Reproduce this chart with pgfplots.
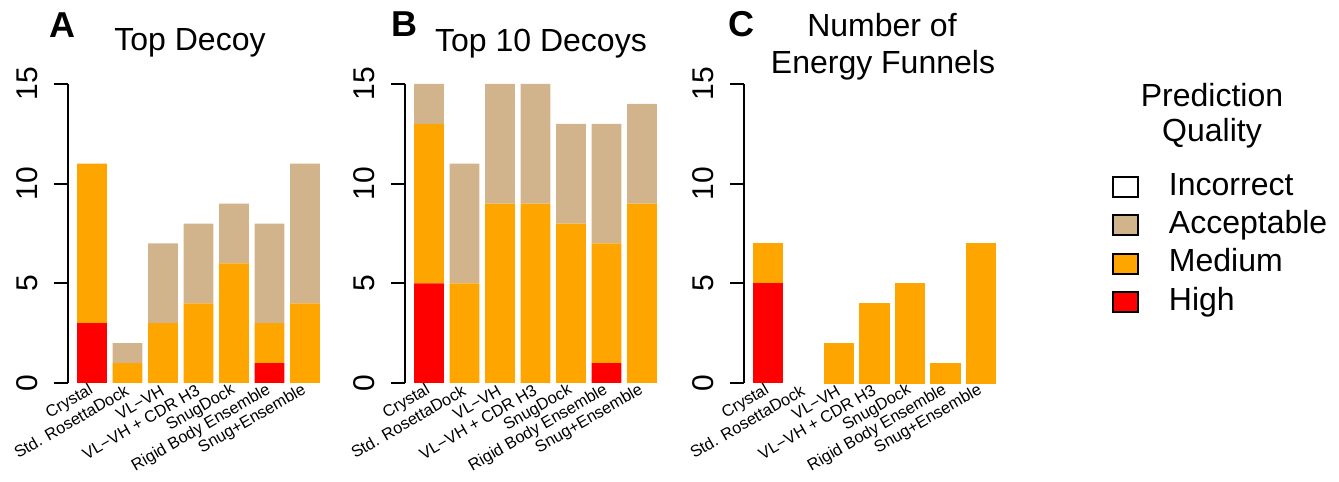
\documentclass[border=0pt]{standalone}
\usepackage{fontspec}
\setmainfont{Liberation Sans}
\usepackage{pgfplots}
\usepackage{pgfplotstable}
\pgfplotsset{compat=1.18}

\definecolor{high}{HTML}{FF0000}
\definecolor{medium}{HTML}{FFA500}
\definecolor{acceptable}{HTML}{D2B48C}

% x  high  medium  acceptable
\pgfplotstableread{
x h m a
0 3 8 0
1 0 1 1
2 0 3 4
3 0 4 4
4 0 6 3
5 1 2 5
6 0 4 7
}\topdecoy
\pgfplotstableread{
x h m a
0 5 8 2
1 0 5 6
2 0 9 6
3 0 9 6
4 0 8 5
5 1 6 6
6 0 9 5
}\topten
\pgfplotstableread{
x h m a
0 5 2 0
1 0 0 0
2 0 2 0
3 0 4 0
4 0 5 0
5 0 1 0
6 0 7 0
}\funnels

\pgfplotsset{
  panel/.style={
    at={(#1,49.5pt)}, anchor=south west,
    ybar stacked, bar width=0.8333,
    x=17.75pt, y=9.9667pt,
    xmin=-0.676, xmax=6.45, ymin=0, ymax=15,
    enlargelimits=false, clip=false,
    axis y line*=left, axis x line*=bottom,
    x axis line style={draw=none},
    y axis line style={line width=1pt},
    xtick={0,...,6},
    xticklabels={Crystal,Std. RosettaDock,VL−VH,VL−VH + CDR H3,SnugDock,Rigid Body Ensemble,Snug+Ensemble},
    xtick style={draw=none},
    ytick={0,5,10,15},
    ytick style={line width=1pt, black},
    tick align=outside, major tick length=7pt,
    /pgf/number format/assume math mode=true,
    yticklabel style={rotate=90, anchor=south, inner sep=0pt,
      font=\fontsize{15}{18}\selectfont},
    yticklabel shift=8pt,
    xticklabel style={rotate=30, anchor=east, inner sep=0pt,
      font=\fontsize{8.2}{10}\selectfont},
    xticklabel shift=-4pt,
    every axis plot/.append style={draw=none},
  },
}

\begin{document}
\begin{tikzpicture}
\useasboundingbox (0,0) rectangle (669.5pt,241pt);

% panel A
\begin{axis}[panel=34pt]
  \addplot[fill=high] table[x=x,y=h] {\topdecoy};
  \addplot[fill=medium] table[x=x,y=m] {\topdecoy};
  \addplot[fill=acceptable] table[x=x,y=a] {\topdecoy};
\end{axis}

% panel B
\begin{axis}[panel=202.5pt]
  \addplot[fill=high] table[x=x,y=h] {\topten};
  \addplot[fill=medium] table[x=x,y=m] {\topten};
  \addplot[fill=acceptable] table[x=x,y=a] {\topten};
\end{axis}

% panel C, with the legend
\begin{axis}[panel=372pt,
  legend style={at={(axis description cs:1.4545,0.7157)}, anchor=north west,
    draw=none, fill=none, inner sep=0pt, outer sep=0pt, row sep=1.2pt,
    column sep=15pt,
    font=\fontsize{16}{19}\selectfont,
    nodes={inner sep=0pt, text height=13pt, text depth=5pt}},
  legend cell align=left,
  legend image code/.code={\draw[#1, line width=1pt] (0pt,-5pt) rectangle (12.5pt,5pt);},
]
  \addplot[fill=high, forget plot] table[x=x,y=h] {\funnels};
  \addplot[fill=medium, draw=medium, line width=0.4pt, forget plot] table[x=x,y=m] {\funnels};
  \addplot[fill=acceptable, forget plot] table[x=x,y=a] {\funnels};
  \addlegendimage{fill=white, draw=black}
  \addlegendentry{Incorrect}
  \addlegendimage{fill=acceptable, draw=black}
  \addlegendentry{Acceptable}
  \addlegendimage{fill=medium, draw=black}
  \addlegendentry{Medium}
  \addlegendimage{fill=high, draw=black}
  \addlegendentry{High}
\end{axis}

% panel letters and titles
\node[anchor=base, font=\fontsize{18}{20}\selectfont\bfseries] at (31pt,222pt) {A};
\node[anchor=base, font=\fontsize{16}{19}\selectfont] at (95pt,215.5pt) {Top Decoy};
\node[anchor=base, font=\fontsize{18}{20}\selectfont\bfseries] at (202pt,222.5pt) {B};
\node[anchor=base, font=\fontsize{16}{19}\selectfont] at (270.5pt,215pt) {Top 10 Decoys};
\node[anchor=base, font=\fontsize{18}{20}\selectfont\bfseries] at (370.5pt,222.5pt) {C};
\node[anchor=base, font=\fontsize{16}{19}\selectfont] at (441pt,222.5pt) {Number of};
\node[anchor=base, font=\fontsize{16}{19}\selectfont] at (441.5pt,204pt) {Energy Funnels};
\node[anchor=base, font=\fontsize{16}{19}\selectfont] at (606pt,187.5pt) {Prediction};
\node[anchor=base, font=\fontsize{16}{19}\selectfont] at (606pt,170pt) {Quality};
\end{tikzpicture}
\end{document}
